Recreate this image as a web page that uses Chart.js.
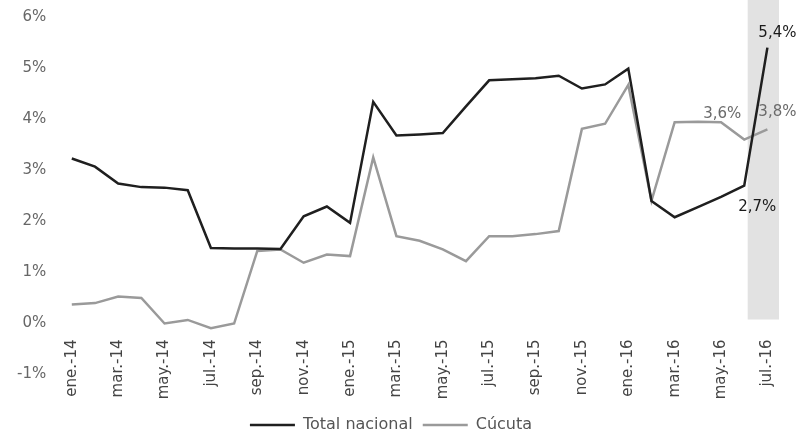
<!DOCTYPE html>
<html>
<head>
<meta charset="utf-8">
<script src="https://cdn.jsdelivr.net/npm/chart.js@4.4.0/dist/chart.umd.min.js"></script>
<style>
  html, body { margin: 0; padding: 0; background: #ffffff; }
  #wrap { width: 797px; height: 443px; }
</style>
</head>
<body>
<div id="wrap"><canvas id="chart"></canvas></div>
<script>
// Months (ene-14 .. jul-16)
const months = [
    'ene.-14', 'feb.-14', 'mar.-14', 'abr.-14', 'may.-14', 'jun.-14', 'jul.-14', 'ago.-14', 'sep.-14', 'oct.-14', 'nov.-14', 'dic.-14',
    'ene.-15', 'feb.-15', 'mar.-15', 'abr.-15', 'may.-15', 'jun.-15', 'jul.-15', 'ago.-15', 'sep.-15', 'oct.-15', 'nov.-15', 'dic.-15',
    'ene.-16', 'feb.-16', 'mar.-16', 'abr.-16', 'may.-16', 'jun.-16', 'jul.-16'
];

// Series values (%)
const totalNacional = [
    3.23, 3.07, 2.74, 2.67, 2.66, 2.61, 1.48, 1.47, 1.47, 1.46, 2.10, 2.29,
    1.97, 4.34, 3.68, 3.70, 3.73, 4.25, 4.76, 4.78, 4.80, 4.85, 4.60, 4.68,
    4.99, 2.40, 2.08, 2.28, 2.48, 2.70, 5.40
];
const cucuta = [
    0.37, 0.40, 0.53, 0.50, 0.00, 0.07, -0.09, 0.00, 1.42, 1.45, 1.19, 1.35,
    1.32, 3.25, 1.71, 1.62, 1.45, 1.22, 1.71, 1.71, 1.75, 1.81, 3.81, 3.91,
    4.67, 2.40, 3.94, 3.95, 3.94, 3.60, 3.80
];

// Y axis range and step
const yMin = -1;
const yMax = 6;
const yStep = 1;

// Which months get a value label (last two months)
const labelledMonths = ['jun.-16', 'jul.-16'];

const fontFamily = '"DejaVu Sans", Verdana, sans-serif';

function formatPct(v) {
    return v.toFixed(1).replace('.', ',') + '%';
}

// Shaded band behind the last month
const highlightBand = {
    id: 'highlightBand',
    beforeDatasetsDraw(chart) {
        const x = chart.scales.x;
        const y = chart.scales.y;
        const ctx = chart.ctx;
        const last = months.length - 1;
        const left = x.getPixelForValue(last - 0.85);
        const right = x.getPixelForValue(last + 0.5);
        ctx.save();
        ctx.fillStyle = '#e2e2e2';
        ctx.fillRect(left, 0, right - left, y.getPixelForValue(0) - 4);
        ctx.restore();
    }
};

// Value labels on the last points
const valueLabels = {
    id: 'valueLabels',
    afterDatasetsDraw(chart) {
        const ctx = chart.ctx;
        // offsets per dataset / label: [dx, dy]
        const offsets = [
            [[13, 22], [10, -15]],
            [[-22, -25], [10, -17]]
        ];
        const colors = ['#1a1a1a', '#6a6a6a'];
        ctx.save();
        ctx.font = '15px ' + fontFamily;
        ctx.textAlign = 'center';
        ctx.textBaseline = 'middle';
        chart.data.datasets.forEach((ds, d) => {
            const meta = chart.getDatasetMeta(d);
            labelledMonths.forEach((m, k) => {
                const i = months.indexOf(m);
                const pt = meta.data[i];
                ctx.fillStyle = colors[d];
                ctx.fillText(formatPct(ds.data[i]), pt.x + offsets[d][k][0], pt.y + offsets[d][k][1]);
            });
        });
        ctx.restore();
    }
};

const ctx = document.getElementById('chart').getContext('2d');
new Chart(ctx, {
    type: 'line',
    data: {
        labels: months,
        datasets: [{
            label: 'Total nacional',
            data: totalNacional,
            borderColor: '#1f1f1f',
            backgroundColor: '#1f1f1f',
            borderWidth: 2.5,
            pointRadius: 0,
            tension: 0
        }, {
            label: 'Cúcuta',
            data: cucuta,
            borderColor: '#9a9a9a',
            backgroundColor: '#9a9a9a',
            borderWidth: 2.5,
            pointRadius: 0,
            tension: 0
        }]
    },
    options: {
        responsive: true,
        maintainAspectRatio: false,
        animation: false,
        layout: {
            padding: { left: 3, right: 18, top: 0, bottom: 0 }
        },
        scales: {
            x: {
                position: { y: 0 },
                offset: true,
                grid: { display: false, drawTicks: false },
                border: { display: false },
                // rotated labels should not eat into the right margin
                afterFit: function(scale) {
                    scale.paddingLeft = 0;
                    scale.paddingRight = 0;
                },
                ticks: {
                    autoSkip: false,
                    maxRotation: 90,
                    minRotation: 90,
                    padding: 16,
                    color: '#444444',
                    font: { family: fontFamily, size: 15 },
                    callback: function(value, index) {
                        return index % 2 === 0 ? months[index] : '';
                    }
                }
            },
            y: {
                min: yMin,
                max: yMax,
                grid: { display: false, drawTicks: false },
                border: { display: false },
                // keep the tick padding from pushing the plot down
                afterFit: function(scale) {
                    scale.paddingTop = 17;
                    scale.paddingBottom = 0;
                },
                ticks: {
                    stepSize: yStep,
                    padding: 14,
                    color: '#666666',
                    font: { family: fontFamily, size: 15 },
                    callback: function(value) {
                        return value + '%';
                    }
                }
            }
        },
        plugins: {
            legend: {
                position: 'bottom',
                title: {
                    display: true,
                    text: '',
                    padding: { top: 18, bottom: 0 }
                },
                labels: {
                    usePointStyle: true,
                    pointStyle: 'line',
                    pointStyleWidth: 45,
                    padding: 10,
                    color: '#555555',
                    font: { family: fontFamily, size: 16 }
                }
            },
            tooltip: { enabled: false }
        }
    },
    plugins: [highlightBand, valueLabels]
});
</script>
</body>
</html>
